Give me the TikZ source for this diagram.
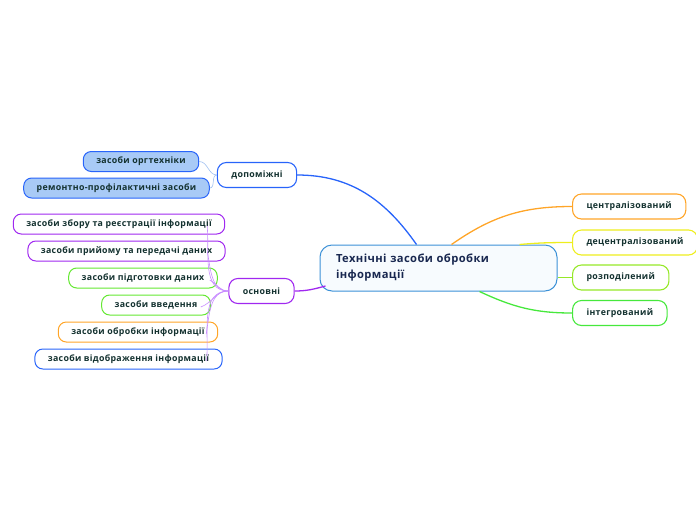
\documentclass[tikz,border=0pt]{standalone}
\usepackage{xcolor}
\usepackage{fontspec}
\setmainfont{Open Sans}[LetterSpace=3.5]
\usepackage{tikz}
\usetikzlibrary{positioning, calc}
\definecolor{mytext}{RGB}{20,50,48}
\definecolor{mynavy}{RGB}{25,40,80}
\definecolor{myblue}{RGB}{40,100,250}
\definecolor{mylblue}{RGB}{168,202,246}
\definecolor{mysky}{RGB}{60,145,215}
\definecolor{mycore}{RGB}{247,251,254}
\definecolor{mypurple}{RGB}{160,40,240}
\definecolor{mylpurple}{RGB}{200,140,255}
\definecolor{mygreen}{RGB}{100,232,50}
\definecolor{mylime}{RGB}{150,232,40}
\definecolor{myleaf}{RGB}{70,232,60}
\definecolor{myorange}{RGB}{255,165,40}
\definecolor{myyellow}{RGB}{238,238,30}
\definecolor{mythin}{RGB}{160,192,240}
\tikzset{
  topic/.style={rectangle, draw=#1, fill=white, rounded corners=9pt,
    minimum height=25pt, inner xsep=14pt, line width=1.1pt,
    font=\fontsize{8.8}{10}\selectfont\bfseries, text=mytext},
  leaf/.style={rectangle, draw=#1, fill=white, rounded corners=8pt,
    minimum height=20pt, inner xsep=13pt, line width=1pt,
    font=\fontsize{8.8}{10}\selectfont\bfseries, text=mytext},
  bleaf/.style={leaf=myblue, fill=mylblue},
  core/.style={rectangle, draw=mysky, fill=mycore, rounded corners=12pt,
    minimum width=237pt, minimum height=46pt, line width=1pt,
    text width=205pt, align=left,
    font=\fontsize{11.2}{16}\selectfont\bfseries, text=mynavy},
  branch/.style={line width=1.3pt, color=#1},
  twig/.style={line width=0.6pt, color=#1}
}
\begin{document}
\begin{tikzpicture}[x=1pt, y=-1pt]
  \useasboundingbox (0,0) rectangle (696,520);
  \node[core] (main) at (438.5,268) {Технічні засоби обробки\\інформації};
  % left side
  \node[topic=myblue]   (dop) at (257,175) {допоміжні};
  \node[topic=mypurple] (osn) at (261.5,291) {основні};
  \node[bleaf] (org) at (141,161.5) {засоби оргтехніки};
  \node[bleaf] (rem) at (116.5,188) {ремонтно-профілактичні засоби};
  \node[leaf=mypurple] (zb)  at (119,224) {засоби збору та реєстрації інформації};
  \node[leaf=mypurple] (pr)  at (126.5,251) {засоби прийому та передачі даних};
  \node[leaf=mygreen]  (pid) at (143,278) {засоби підготовки даних};
  \node[leaf=mygreen]  (vv)  at (156,305) {засоби введення};
  \node[leaf=myorange] (obr) at (138,332) {засоби обробки інформації};
  \node[leaf=myblue]   (vid) at (128.5,359) {засоби відображення інформації};
  % right side
  \node[topic=myorange, anchor=west] (cen) at (572,206.5) {централізований};
  \node[topic=myyellow, anchor=west] (dec) at (572,242.5) {децентралізований};
  \node[topic=mylime,   anchor=west] (roz) at (572,277.5) {розподілений};
  \node[topic=myleaf,   anchor=west] (int) at (572,313) {інтегрований};

  \draw[branch=myblue]   (dop.east) to[out=0, in=125] ($(main.north west)+(97,0)$);
  \draw[branch=mypurple] (osn.east) to[out=0, in=195] ($(main.west)+(6,18)$);
  \draw[branch=myorange] ($(main.north west)+(132,0)$) to[out=35, in=180] (cen.west);
  \draw[branch=myyellow] ($(main.north west)+(200,0)$) to[out=5, in=180] (dec.west);
  \draw[branch=mylime]   (main.east |- roz.west) -- (roz.west);
  \draw[branch=myleaf]   ($(main.south west)+(160,0)$) to[out=-25, in=180] (int.west);
  % small links
  \draw[twig=mythin] (dop.west) to[out=180, in=0] (org.east);
  \draw[twig=mythin] (dop.west) to[out=180, in=0] (rem.east);
  \foreach \c/\d/\a in {zb/18/-85, pr/18/-80, pid/8/-30, vv/10/20, obr/12/80, vid/16/85}
    \draw[twig=mylpurple] (osn.west) to[out=180, in=\a] ($(\c.east)+(-\d,2)$);
\end{tikzpicture}
\end{document}
